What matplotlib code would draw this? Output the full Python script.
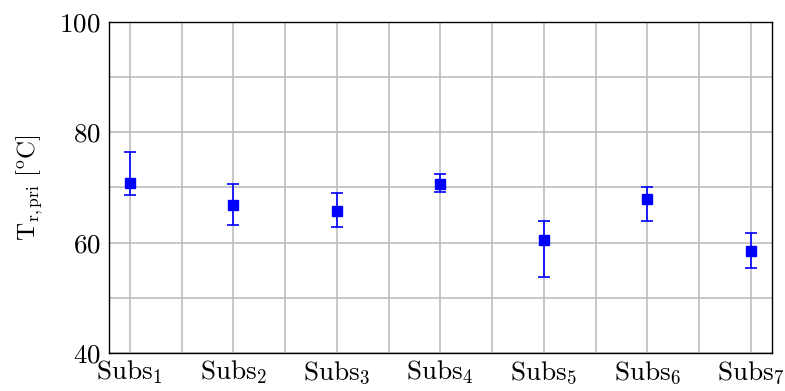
import matplotlib
matplotlib.use("Agg")
import matplotlib.pyplot as plt
from matplotlib.ticker import MultipleLocator

plt.rcParams['mathtext.fontset'] = 'cm'
plt.rcParams['font.family'] = 'serif'
plt.rcParams['font.serif'] = ['cmr10', 'DejaVu Serif']
plt.rcParams['axes.formatter.use_mathtext'] = True

categories = [r'$\mathrm{Subs}_{%d}$' % i for i in range(1, 8)]
means = [70.9, 66.8, 65.8, 70.6, 60.5, 67.9, 58.55]
upper = [76.4, 70.7, 68.95, 72.5, 64.0, 70.0, 61.7]
lower = [68.7, 63.15, 62.8, 69.1, 53.7, 63.9, 55.35]
yticks = [40, 60, 80, 100]

x = list(range(1, len(categories) + 1))
err_lo = [m - l for m, l in zip(means, lower)]
err_hi = [u - m for m, u in zip(means, upper)]

fig = plt.figure(figsize=(7.85, 3.91), dpi=100)
ax = fig.add_axes([0.139, 0.097, 0.844, 0.847])

ax.errorbar(x, means, yerr=[err_lo, err_hi], fmt='s', color='#0000ff',
            ecolor='#0000ff', markersize=7.5, capsize=4.2, elinewidth=1.2,
            capthick=1.2, zorder=3)

ax.set_xlim(0.8, 7.2)
ax.set_ylim(40, 100)
ax.set_xticks(x)
ax.set_xticklabels(categories, fontsize=19)
ax.xaxis.set_minor_locator(MultipleLocator(0.5))
ax.set_yticks(yticks)
ax.yaxis.set_minor_locator(MultipleLocator(10))
ax.tick_params(axis='both', which='both', direction='in', length=0, labelsize=19.5)
ax.tick_params(axis='y', pad=6)
ax.tick_params(axis='x', pad=4)
ax.set_yticklabels(['$%d$' % v for v in yticks])
ax.grid(True, which='both', color='#bdbdbd', linewidth=1.2)
ax.set_axisbelow(True)
for s in ax.spines.values():
    s.set_color('black')
    s.set_linewidth(1.0)

ax.set_ylabel(r'$\mathrm{T}_{\mathrm{r,pri}}\ [^{\mathrm{o}}\mathrm{C}]$', fontsize=18, labelpad=10)

fig.savefig('out.png', dpi=100)
